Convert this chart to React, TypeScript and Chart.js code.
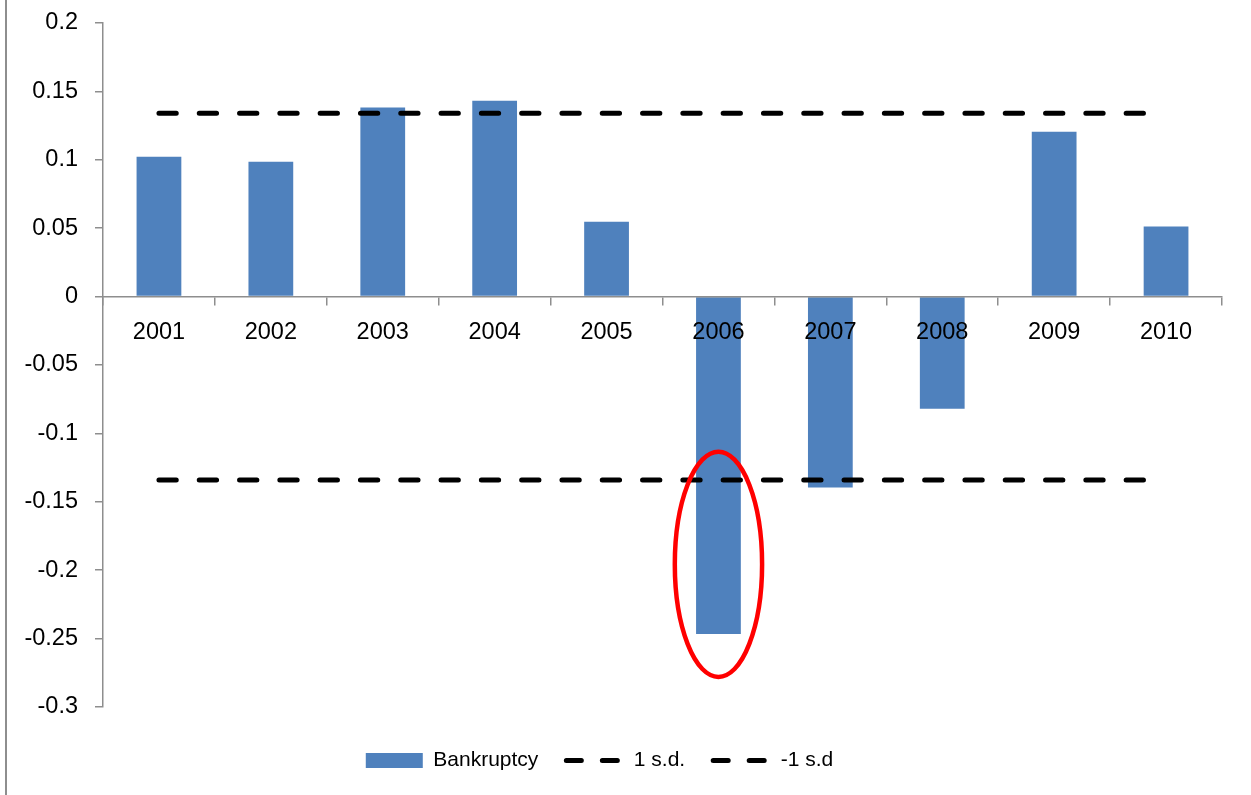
import React, { useEffect, useRef } from 'react';
import { Chart, registerables } from 'chart.js';

Chart.register(...registerables);

const CATEGORIES = ['2001', '2002', '2003', '2004', '2005', '2006', '2007', '2008', '2009', '2010'];
const BANKRUPTCY = [0.1022, 0.0985, 0.1382, 0.1432, 0.0547, -0.2467, -0.1396, -0.0820, 0.1205, 0.0512];
const SD_PLUS = [0.134, 0.134, 0.134, 0.134, 0.134, 0.134, 0.134, 0.134, 0.134, 0.134];
const SD_MINUS = [-0.134, -0.134, -0.134, -0.134, -0.134, -0.134, -0.134, -0.134, -0.134, -0.134];
const SERIES_NAMES = ['Bankruptcy', '1 s.d.', '-1 s.d'];
const Y_MIN = -0.3;
const Y_MAX = 0.2;
const Y_STEP = 0.05;

// highlight ellipse (annotation) in data units
const HIGHLIGHT_CATEGORY = '2006';
const HIGHLIGHT_TOP = -0.1134;
const HIGHLIGHT_BOTTOM = -0.278;
const HIGHLIGHT_HALF_WIDTH = 0.39; // fraction of one category width

const FONT = "'Liberation Sans', Arial, sans-serif";
const AXIS_GRAY = '#8E8E8E';
const BAR_BLUE = '#4F81BD';

export default function App() {
  const ref = useRef<HTMLCanvasElement | null>(null);

  useEffect(() => {
    if (!ref.current) return;

    const framePlugin = {
      id: 'frameLine',
      beforeDraw(chart: any) {
        const ctx = chart.ctx;
        ctx.save();
        ctx.strokeStyle = AXIS_GRAY;
        ctx.lineWidth = 2;
        ctx.beginPath();
        ctx.moveTo(6, 0);
        ctx.lineTo(6, chart.height);
        ctx.stroke();
        ctx.restore();
        if (chart.legend) {
          chart.legend.left = 0;
          chart.legend.right = 1199;
        }
      },
    };

    const ellipsePlugin = {
      id: 'highlightEllipse',
      afterDatasetsDraw(chart: any) {
        const x = chart.scales.x;
        const y = chart.scales.y;
        const idx = CATEGORIES.indexOf(HIGHLIGHT_CATEGORY);
        const cx = x.getPixelForValue(idx);
        const catW = x.getPixelForValue(1) - x.getPixelForValue(0);
        const yTop = y.getPixelForValue(HIGHLIGHT_TOP);
        const yBot = y.getPixelForValue(HIGHLIGHT_BOTTOM);
        const ctx = chart.ctx;
        ctx.save();
        ctx.strokeStyle = '#FF0000';
        ctx.lineWidth = 4.5;
        ctx.beginPath();
        ctx.ellipse(cx, (yTop + yBot) / 2, catW * HIGHLIGHT_HALF_WIDTH, (yBot - yTop) / 2, 0, 0, Math.PI * 2);
        ctx.stroke();
        ctx.restore();
      },
    };

    const chart = new Chart(ref.current, {
      type: 'bar',
      data: {
        labels: CATEGORIES,
        datasets: [
          {
            type: 'bar',
            label: SERIES_NAMES[0],
            data: BANKRUPTCY,
            backgroundColor: BAR_BLUE,
            borderWidth: 0,
            categoryPercentage: 1,
            barPercentage: 0.4,
            order: 2,
          } as any,
          {
            type: 'line',
            label: SERIES_NAMES[1],
            data: SD_PLUS,
            borderColor: '#000000',
            borderWidth: 5,
            borderDash: [17.3, 23],
            borderCapStyle: 'round',
            pointRadius: 0,
            fill: false,
            order: 1,
          } as any,
          {
            type: 'line',
            label: SERIES_NAMES[2],
            data: SD_MINUS,
            borderColor: '#000000',
            borderWidth: 5,
            borderDash: [17.3, 23],
            borderCapStyle: 'round',
            pointRadius: 0,
            fill: false,
            order: 1,
          } as any,
        ],
      },
      options: {
        animation: false,
        responsive: false,
        devicePixelRatio: 1,
        layout: { padding: { left: 0, right: 29, top: 23, bottom: 14 } },
        scales: {
          x: {
            type: 'category',
            position: { y: 0 } as any,
            offset: true,
            grid: {
              offset: true,
              drawOnChartArea: false,
              drawTicks: true,
              tickLength: 8,
              color: AXIS_GRAY,
              lineWidth: 1.5,
              z: 1,
            },
            border: { display: true, color: AXIS_GRAY, width: 1.5, z: 1 },
            ticks: {
              z: 1,
              color: '#000000',
              font: { family: FONT, size: 23.5 },
              padding: 14,
              maxRotation: 0,
              autoSkip: false,
            },
          },
          y: {
            min: Y_MIN,
            max: Y_MAX,
            afterFit(scale: any) {
              scale.width = 103;
              scale.paddingTop = 0;
              scale.paddingBottom = 0;
            },
            grid: {
              drawOnChartArea: false,
              drawTicks: true,
              tickLength: 8,
              color: AXIS_GRAY,
              lineWidth: 1.5,
            },
            border: { display: true, color: AXIS_GRAY, width: 1.5 },
            ticks: {
              stepSize: Y_STEP,
              color: '#000000',
              font: { family: FONT, size: 23.5 },
              padding: 17,
              callback: (v: any) => String(Number(Number(v).toFixed(2))),
            },
          },
        },
        plugins: {
          tooltip: { enabled: false },
          legend: {
            display: true,
            position: 'bottom',
            title: { display: true, text: '', font: { size: 15, lineHeight: 1 }, padding: 0 },
            labels: {
              usePointStyle: true,
              pointStyleWidth: 57,
              boxHeight: 15,
              padding: 28,
              color: '#000000',
              font: { family: FONT, size: 21 },
              generateLabels: () => [
                {
                  text: SERIES_NAMES[0],
                  fillStyle: BAR_BLUE,
                  strokeStyle: BAR_BLUE,
                  lineWidth: 0,
                  pointStyle: 'rect',
                  hidden: false,
                  datasetIndex: 0,
                  fontColor: '#000000',
                },
                {
                  text: SERIES_NAMES[1],
                  fillStyle: '#000000',
                  strokeStyle: '#000000',
                  lineWidth: 5,
                  lineDash: [15, 21],
                  lineCap: 'round',
                  pointStyle: 'line',
                  hidden: false,
                  datasetIndex: 1,
                  fontColor: '#000000',
                },
                {
                  text: SERIES_NAMES[2],
                  fillStyle: '#000000',
                  strokeStyle: '#000000',
                  lineWidth: 5,
                  lineDash: [15, 21],
                  lineCap: 'round',
                  pointStyle: 'line',
                  hidden: false,
                  datasetIndex: 2,
                  fontColor: '#000000',
                },
              ] as any,
            },
          },
        },
      } as any,
      plugins: [framePlugin, ellipsePlugin],
    });

    return () => chart.destroy();
  }, []);

  return (
    <div style={{ position: 'absolute', left: 0, top: 0, width: 1251, height: 795, background: '#ffffff' }}>
      <canvas ref={ref} width={1251} height={795} style={{ display: 'block' }} />
    </div>
  );
}
